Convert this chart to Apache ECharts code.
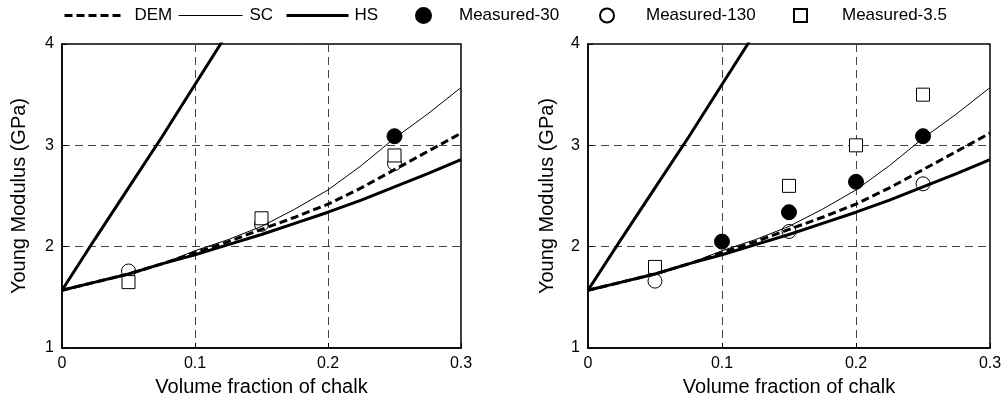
<!DOCTYPE html>
<html>
<head>
<meta charset="utf-8">
<script src="https://cdn.jsdelivr.net/npm/echarts@6/dist/echarts.min.js"></script>
<style>
html,body{margin:0;padding:0;background:#fff;}
#c{width:1005px;height:402px;}
</style>
</head>
<body>
<div id="c"></div>
<script>
// ---- data ----
const xs = [0, 0.025, 0.05, 0.075, 0.1, 0.125, 0.15, 0.175, 0.2, 0.225, 0.25, 0.275, 0.3];
const demVals   = [1.57, 1.65, 1.73, 1.83, 1.94, 2.05, 2.17, 2.29, 2.42, 2.58, 2.76, 2.94, 3.12];
const scVals    = [1.57, 1.65, 1.73, 1.83, 1.96, 2.07, 2.20, 2.37, 2.56, 2.80, 3.07, 3.31, 3.57];
const hsLowVals = [1.57, 1.65, 1.73, 1.83, 1.92, 2.02, 2.12, 2.23, 2.34, 2.46, 2.59, 2.72, 2.86];
const hsUpX     = [0, 0.025, 0.05, 0.075, 0.1, 0.125];
const hsUpVals  = [1.57, 2.08, 2.58, 3.08, 3.6, 4.12];

const m30Left  = [[0.25, 3.09]];
const m130Left = [[0.05, 1.76], [0.15, 2.22], [0.25, 2.82]];
const m35Left  = [[0.05, 1.65], [0.15, 2.28], [0.25, 2.90]];

const m30Right  = [[0.10, 2.05], [0.15, 2.34], [0.20, 2.64], [0.25, 3.09]];
const m130Right = [[0.05, 1.66], [0.15, 2.15], [0.25, 2.62]];
const m35Right  = [[0.05, 1.80], [0.15, 2.60], [0.20, 3.00], [0.25, 3.50]];

const xTicks = [0, 0.1, 0.2, 0.3];
const yTicks = [1, 2, 3, 4];
const xTitle = 'Volume fraction of chalk';
const yTitle = 'Young Modulus (GPa)';

// ---- build ----
const pair = (xa, ya) => xa.map((x, i) => [x, ya[i]]);
const FONT = '"Liberation Sans", Arial, sans-serif';
const DASH = [8, 4];

function xAxis(gi) {
  return {
    type: 'value', gridIndex: gi, min: xTicks[0], max: xTicks[xTicks.length - 1], interval: 0.1,
    name: xTitle, nameLocation: 'middle', nameGap: 29,
    nameTextStyle: { fontFamily: FONT, fontSize: 20, color: '#000' },
    axisLine: { show: true, onZero: false, lineStyle: { color: '#000', width: 1.5 } },
    axisTick: { show: true, inside: true, length: 5, lineStyle: { color: '#000' } },
    axisLabel: { fontFamily: FONT, fontSize: 16, color: '#000', margin: 8,
      formatter: v => String(+v.toFixed(1)) },
    splitLine: { show: true, lineStyle: { color: '#444', type: [8, 5], width: 1 } }
  };
}
function yAxis(gi, gap) {
  return {
    type: 'value', gridIndex: gi, min: yTicks[0], max: yTicks[yTicks.length - 1], interval: 1,
    name: yTitle, nameLocation: 'middle', nameGap: gap,
    nameTextStyle: { fontFamily: FONT, fontSize: 20, color: '#000' },
    axisLine: { show: true, onZero: false, lineStyle: { color: '#000', width: 1.5 } },
    axisTick: { show: true, inside: true, length: 5, lineStyle: { color: '#000' } },
    axisLabel: { fontFamily: FONT, fontSize: 16, color: '#000', margin: 8 },
    splitLine: { show: true, lineStyle: { color: '#444', type: [8, 5], width: 1 } }
  };
}
function lineSeries(name, gi, data, width, type, z) {
  return {
    name, type: 'line', xAxisIndex: gi, yAxisIndex: gi, data, symbol: 'none', clip: true,
    lineStyle: { color: '#000', width, type }, itemStyle: { color: '#000' }, z, silent: true
  };
}
function scatterSeries(name, gi, data, symbol, size, fill, z) {
  return {
    name, type: 'scatter', xAxisIndex: gi, yAxisIndex: gi, data, symbol, symbolSize: size,
    itemStyle: { color: fill, borderColor: '#000', borderWidth: 1, opacity: 1 }, z, silent: true
  };
}
function panel(gi, m30, m130, m35) {
  return [
    scatterSeries('Measured-130', gi, m130, 'circle', 14, '#fff', 2),
    scatterSeries('Measured-3.5', gi, m35, 'rect', 13, '#fff', 3),
    scatterSeries('Measured-30', gi, m30, 'circle', 15, '#000', 4),
    lineSeries('DEM', gi, pair(xs, demVals), 3, DASH, 5),
    lineSeries('SC', gi, pair(xs, scVals), 1, 'solid', 5),
    lineSeries('HS', gi, pair(xs, hsLowVals), 3, 'solid', 5),
    lineSeries('HS', gi, pair(hsUpX, hsUpVals), 3, 'solid', 5)
  ];
}

const legendText = { fontFamily: FONT, fontSize: 17, color: '#000' };
function legendItem(name, left, w, h, pad, line) {
  const l = {
    data: [name], left, top: 7, itemWidth: w, itemHeight: h, selectedMode: false,
    padding: 0, textStyle: Object.assign({ padding: [0, 0, 0, pad] }, legendText)
  };
  if (line) {
    l.itemStyle = { color: 'transparent', borderColor: 'transparent', borderWidth: 0, opacity: 0 };
    l.lineStyle = { color: '#000', width: line.width, type: line.type, opacity: 1 };
  }
  return l;
}

const option = {
  animation: false,
  backgroundColor: '#fff',
  legend: [
    legendItem('DEM', 63, 59, 14, 6, { width: 3, type: DASH }),
    legendItem('SC', 178, 64, 14, 2, { width: 1, type: 'solid' }),
    legendItem('HS', 285, 62, 14, 1, { width: 3, type: 'solid' }),
    legendItem('Measured-30', 415, 15, 15, 23, null),
    legendItem('Measured-130', 599, 14, 14, 27, null),
    legendItem('Measured-3.5', 793, 13, 13, 30, null)
  ],
  grid: [
    { left: 62, top: 44, width: 399, height: 305, show: true, borderColor: '#000', borderWidth: 1.5, backgroundColor: 'transparent' },
    { left: 588, top: 44, width: 402, height: 305, show: true, borderColor: '#000', borderWidth: 1.5, backgroundColor: 'transparent' }
  ],
  xAxis: [xAxis(0), xAxis(1)],
  yAxis: [yAxis(0, 33), yAxis(1, 31)],
  series: [].concat(panel(0, m30Left, m130Left, m35Left), panel(1, m30Right, m130Right, m35Right))
};

const chart = echarts.init(document.getElementById('c'), null, { renderer: 'canvas' });
chart.setOption(option);
</script>
</body>
</html>
